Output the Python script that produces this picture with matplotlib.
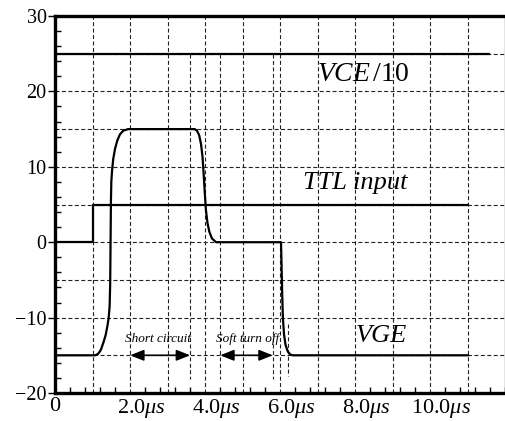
import matplotlib
matplotlib.use("Agg")
import matplotlib.pyplot as plt
import matplotlib.transforms as mtransforms
from matplotlib.patches import FancyArrowPatch
import numpy as np

plt.rcParams['font.family'] = ['Liberation Serif', 'DejaVu Serif']
plt.rcParams['mathtext.fontset'] = 'custom'
plt.rcParams['mathtext.rm'] = 'Liberation Serif'
plt.rcParams['mathtext.it'] = 'Liberation Serif:italic'

# ---- data ----
vce_t = [0.0, 11.55]
vce_v = [25, 25]

ttl_t = [0.0, 1.0, 1.0, 11.0]
ttl_v = [0, 0, 5, 5]

vge_t = [0.0, 1.07, 1.15, 1.22, 1.29, 1.35, 1.40, 1.43, 1.455, 1.47, 1.48, 1.49,
         1.50, 1.52, 1.55, 1.60, 1.66, 1.73, 1.82, 1.95,
         3.72, 3.78, 3.84, 3.89, 3.93, 3.96, 3.99, 4.02, 4.06, 4.11, 4.18, 4.29,
         6.02, 6.035, 6.05, 6.07, 6.10, 6.14, 6.20, 6.27, 6.33, 11.0]
vge_v = [-15, -15, -14.8, -14.3, -13.3, -12.3, -11.0, -10.0, -8.5, -5.5, 0.0, 5.5,
         8.0, 9.5, 11.0, 12.4, 13.5, 14.3, 14.8, 15,
         15, 14.8, 14.2, 13.0, 11.3, 9.0, 6.5, 4.3, 2.6, 1.4, 0.5, 0,
         0, -3.0, -6.5, -10.0, -12.2, -13.6, -14.5, -14.9, -15, -15]

marker_t = [3.6, 4.4, 5.8]
marker_top, marker_bot = 25, -18.1
short_marker_t = 6.2
short_marker_range = (-10.9, -17.8)

sc_span = (2.0, 3.6)
sto_span = (4.4, 5.8)
arrow_level = -15

xtick_vals = [0, 2, 4, 6, 8, 10]
xtick_labels = ['0', r'2.0$\mu s$', r'4.0$\mu s$', r'6.0$\mu s$', r'8.0$\mu s$', r'10.0$\mu s$']
ytick_vals = [-20, -10, 0, 10, 20, 30]
grid_x = list(range(1, 12))
grid_y = [-15, -10, -5, 0, 5, 10, 15, 20, 25]

# ---- figure ----
fig = plt.figure(figsize=(5.06, 4.21), dpi=100)
ax = fig.add_axes([55/506, 28/421, (505.5-55)/506, (393-16)/421])
ax.set_xlim(0, 12)
ax.set_ylim(-20, 30)

dash = (3.6, 2.2)
gcol = '#222222'
for gx in grid_x:
    ax.axvline(gx, color=gcol, lw=0.8, dashes=dash, zorder=1)
for gy in grid_y:
    ax.axhline(gy, color=gcol, lw=0.8, dashes=dash, zorder=1)
for mt in marker_t:
    ax.plot([mt, mt], [marker_top, marker_bot], color=gcol, lw=0.8, dashes=dash, zorder=1)
ax.plot([short_marker_t]*2, list(short_marker_range), color=gcol, lw=0.8, dashes=dash, zorder=1)

ax.plot(vce_t, vce_v, color='black', lw=1.6, zorder=3)
ax.plot(ttl_t, ttl_v, color='black', lw=1.6, zorder=3)
ax.plot(vge_t, vge_v, color='black', lw=1.6, zorder=3, solid_joinstyle='round')

for (a, b) in [sc_span, sto_span]:
    arr = FancyArrowPatch((a, arrow_level), (b, arrow_level),
                          arrowstyle='<|-|>,head_length=0.55,head_width=0.22',
                          mutation_scale=15, color='black', lw=1.2,
                          shrinkA=0, shrinkB=0, zorder=4)
    ax.add_patch(arr)

ax.text(2.75, -12.9, 'Short circuit', style='italic', fontsize=9.5, ha='center', va='center')
ax.text(5.13, -12.9, 'Soft turn off', style='italic', fontsize=9.5, ha='center', va='center')

ax.text(8.2, 22.3, r'$VCE\,/10$', fontsize=20, ha='center', va='center')
ax.text(8.0, 7.8, 'TTL input', style='italic', fontsize=19, ha='center', va='center')
ax.text(8.7, -12.5, 'VGE', style='italic', fontsize=19, ha='center', va='center')

# spines
for s in ['left', 'bottom', 'top']:
    ax.spines[s].set_linewidth(2.4)
    ax.spines[s].set_color('black')
ax.spines['right'].set_linewidth(1.0)
ax.spines['right'].set_color('#777777')

ax.set_xticks(xtick_vals)
ax.set_xticklabels(xtick_labels, fontsize=16)
ax.set_xticks(np.arange(0, 12.01, 0.4), minor=True)
ax.set_yticks(ytick_vals)
ax.set_yticklabels([str(v).replace('-', '\u2212') for v in ytick_vals], fontsize=14.5)
ax.set_yticks(np.arange(-20, 30.01, 2), minor=True)

ax.tick_params(axis='x', which='major', length=0, pad=3)
ax.tick_params(axis='x', which='minor', direction='in', length=4, width=1.0)
ax.tick_params(axis='y', which='major', direction='out', length=5, width=1.0, pad=1)
ax.tick_params(axis='y', which='minor', direction='in', length=4, width=1.0)
ax.tick_params(top=False, right=False, which='both')

offset = mtransforms.ScaledTranslation(11/100, 0, fig.dpi_scale_trans)
for lbl in ax.get_xticklabels()[1:]:
    lbl.set_transform(lbl.get_transform() + offset)

fig.savefig('out.png', dpi=100, facecolor='white')
